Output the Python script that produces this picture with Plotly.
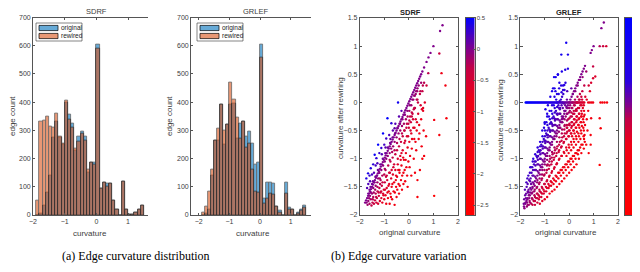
import plotly.graph_objects as go

# ---------------- histogram data ----------------
bin_centers = [-1.85, -1.75, -1.65, -1.55, -1.45, -1.35, -1.25, -1.15, -1.05, -0.95,
               -0.85, -0.75, -0.65, -0.55, -0.45, -0.35, -0.25, -0.15, -0.05, 0.05,
               0.15, 0.25, 0.35, 0.45, 0.55, 0.65, 0.75, 0.85, 0.95, 1.05,
               1.15, 1.25, 1.35, 1.45]
sdrf_original = [0, 5, 35, 80, 140, 275, 330, 275, 250, 400, 355, 325, 230, 280, 295, 280, 150,
                 185, 185, 605, 95, 115, 110, 113, 50, 20, 0, 118, 20, 2, 2, 10, 20, 35]
sdrf_rewired = [53, 330, 335, 350, 315, 310, 360, 278, 255, 405, 340, 310, 235, 260, 290, 265, 160,
                185, 180, 590, 95, 115, 100, 113, 50, 20, 0, 118, 20, 2, 2, 10, 20, 35]
grlef_original = [0, 5, 20, 140, 265, 265, 390, 250, 320, 390, 395, 270, 325, 330, 280, 295, 255,
                  180, 185, 605, 60, 115, 115, 110, 30, 15, 0, 115, 25, 20, 0, 10, 20, 35]
grlef_rewired = [10, 30, 85, 160, 265, 305, 390, 300, 320, 470, 410, 345, 270, 330, 240, 255, 160,
                 85, 80, 560, 40, 60, 75, 72, 30, 10, 0, 75, 20, 20, 0, 5, 15, 25]
hist_xticks = [-2, -1, 0, 1]
hist_yticks = [0, 100, 200, 300, 400, 500, 600, 700]
legend_labels = ["original", "rewired"]

# ---------------- scatter data (original curvature, curvature after rewiring) ----------------
sdrf_unchanged = [-1.78, -1.74, -1.70, -1.66, -1.62, -1.58, -1.54, -1.50, -1.46, -1.42, -1.38, -1.34,
                  -1.30, -1.26, -1.22, -1.18, -1.14, -1.10, -1.06, -1.02, -0.98, -0.94, -0.90, -0.86,
                  -0.82, -0.78, -0.74, -0.70, -0.66, -0.62, -0.58, -0.54, -0.50, -0.46, -0.42, -0.38,
                  -0.34, -0.30, -0.26, -0.22, -0.18, -0.14, -0.10, -0.06, -0.02, 0.02, 0.06, 0.10,
                  0.14, 0.18, 0.22, 0.26, 0.30, 0.34, 0.38, 0.42, 0.46, 0.50, 0.55, 0.62, 0.72, 0.80,
                  0.88, 1.00, 1.27, 1.37, 1.55]
sdrf_changed = [
    (-1.72, -1.78), (-1.68, -1.82), (-1.65, -1.75), (-1.6, -1.8), (-1.55, -1.72), (-1.52, -1.83),
    (-1.48, -1.78), (-1.45, -1.68), (-1.42, -1.8), (-1.38, -1.74), (-1.35, -1.62), (-1.32, -1.78),
    (-1.3, -1.7), (-1.27, -1.58), (-1.25, -1.8), (-1.22, -1.66), (-1.2, -1.52), (-1.18, -1.75),
    (-1.15, -1.6), (-1.12, -1.7), (-1.1, -1.48), (-1.08, -1.78), (-1.05, -1.62), (-1.02, -1.55),
    (-1.0, -1.72), (-0.98, -1.42), (-0.95, -1.65), (-0.92, -1.8), (-0.9, -1.52), (-0.88, -1.38),
    (-0.85, -1.7), (-0.82, -1.58), (-0.8, -1.45), (-0.78, -1.8), (-0.75, -1.62), (-0.72, -1.35),
    (-0.7, -1.5), (-0.68, -1.72), (-0.65, -1.28), (-0.62, -1.58), (-0.6, -1.42), (-0.58, -1.82),
    (-0.55, -1.2), (-0.52, -1.5), (-0.5, -1.68), (-0.48, -1.32), (-0.45, -1.1), (-0.42, -1.45),
    (-0.4, -1.62), (-0.38, -1.25), (-0.35, -0.95), (-0.32, -1.38), (-0.3, -1.12), (-0.28, -1.55),
    (-0.25, -0.85), (-0.22, -1.25), (-0.2, -1.02), (-0.18, -0.72), (-0.15, -1.4), (-0.12, -0.9),
    (-0.1, -1.15), (-0.08, -0.6), (-0.05, -0.8), (-0.02, -1.05), (0.0, -0.45), (0.02, -0.7),
    (0.05, -0.95), (0.08, -0.35), (0.1, -0.55), (0.12, -0.82), (0.15, -0.2), (0.18, -0.45),
    (0.2, -1.0), (0.22, -0.65), (0.25, -0.1), (0.28, -0.3), (0.3, -0.85), (0.32, -0.5),
    (0.35, 0.05), (0.38, -0.2), (0.4, -0.65), (0.42, -0.4), (0.45, 0.15), (0.48, -0.05),
    (0.5, -0.3), (0.52, -0.78), (0.55, 0.2), (0.58, -0.15), (0.6, -0.5),
    (-1.65, -1.62), (-1.6, -1.55), (-1.55, -1.6), (-1.5, -1.45), (-1.45, -1.52), (-1.4, -1.42),
    (-1.35, -1.48), (-1.3, -1.3), (-1.28, -1.42), (-1.25, -1.35), (-1.2, -1.25), (-1.15, -1.38),
    (-1.12, -1.2), (-1.08, -1.3), (-1.05, -1.12), (-1.0, -1.28), (-0.98, -1.05), (-0.95, -1.2),
    (-0.92, -1.0), (-0.9, -1.3), (-0.86, -0.95), (-0.84, -1.12), (-0.8, -1.25), (-0.78, -0.9),
    (-0.75, -1.05), (-0.72, -0.82), (-0.7, -1.2), (-0.66, -0.98), (-0.64, -0.78), (-0.6, -1.1),
    (-0.58, -0.7), (-0.55, -0.92), (-0.52, -1.3), (-0.5, -0.62), (-0.48, -0.85), (-0.45, -1.0),
    (-0.42, -0.55), (-0.4, -0.78), (-0.38, -1.2), (-0.35, -0.5), (-0.32, -0.7), (-0.3, -0.9),
    (-0.28, -0.42), (-0.25, -0.6), (-0.22, -1.45), (-0.2, -0.38), (-0.18, -0.5), (-0.15, -0.68),
    (-0.12, -0.3), (-0.1, -0.45), (-0.05, -0.25), (-0.02, -0.38), (0.02, -0.15), (0.05, -0.25),
    (0.1, -0.05), (0.12, -0.18), (0.18, 0.05), (0.2, -0.12), (0.22, 0.12), (0.28, 0.15),
    (0.3, 0.2), (0.35, 0.25), (0.4, 0.3), (0.25, -1.25), (-0.05, -1.5), (0.1, -1.3),
    (-1.62, -1.7), (-1.58, -1.66), (-1.5, -1.62), (-1.47, -1.72), (-1.43, -1.6), (-1.37, -1.55),
    (-1.33, -1.68), (-1.28, -1.5), (-1.23, -1.6), (-1.17, -1.45), (-1.13, -1.58), (-1.07, -1.42),
    (-1.03, -1.65), (-0.97, -1.55), (-0.93, -1.32), (-0.87, -1.6), (-0.83, -1.48), (-0.77, -1.25),
    (-0.73, -1.68), (-0.67, -1.45), (-0.63, -1.15), (-0.57, -1.6), (-0.53, -1.38), (-0.47, -1.55),
    (-0.43, -1.2), (-0.37, -1.48), (-0.33, -1.02), (-0.27, -1.3), (-0.23, -0.98), (-0.17, -1.2),
    (-0.13, -1.02), (-0.07, -1.3), (-0.03, -0.6), (0.03, -1.15), (0.07, -0.5), (0.13, -0.65),
    (0.17, -0.3), (0.23, -0.45), (0.27, -0.7), (0.33, -0.35), (0.37, 0.0), (0.43, -0.55),
    (0.47, 0.2), (0.53, -0.12), (0.57, 0.3),
    (-1.56, -1.5), (-1.46, -1.4), (-1.36, -1.32), (-1.26, -1.2), (-1.16, -1.1), (-1.06, -1.0),
    (-0.96, -0.9), (-0.86, -0.8), (-0.76, -0.72), (-0.66, -0.62), (-0.56, -0.55), (-0.46, -0.45),
    (-0.36, -0.38), (-0.26, -0.3), (-0.16, -0.22), (-0.06, -0.15), (0.04, -0.05), (0.14, 0.05),
    (0.24, 0.12), (0.34, 0.2),
    (-1.18, -1.35), (-0.98, -1.18), (-0.78, -1.02), (-0.58, -0.85), (-0.38, -0.65), (-0.18, -0.5),
    (0.02, -0.32), (0.22, -0.1), (-0.68, -0.88), (-0.48, -0.72), (-0.28, -0.55), (-0.08, -0.38),
    (0.12, -0.25), (0.32, 0.05),
    (0.35, -1.68), (1.03, -1.66), (1.24, -0.58), (1.53, -0.28), (1.49, 0.3), (1.33, 0.52),
    (1.24, 0.87), (0.79, 0.52), (1.03, -0.31), (0.35, -1.38), (0.58, -0.1), (0.62, -0.95),
    (0.72, 0.3), (0.65, 0.0), (0.7, -0.6), (0.55, -1.0), (0.45, -1.2), (0.62, 0.35), (0.5, 0.35),
    (-0.44, 0.0), (-0.87, -0.28), (-0.71, -0.37), (-1.05, -0.55), (-1.25, -0.75), (-1.39, -0.93),
    (-1.55, -1.17), (-1.66, -1.26), (-1.73, -1.35), (-1.32, -0.99), (-1.12, -0.81), (-0.92, -0.64),
    (-0.58, -0.46), (-1.45, -1.1), (-1.6, -1.3), (-1.2, -0.9), (-1.0, -0.75), (-0.8, -0.58),
    (-0.65, -0.5), (-1.35, -1.12), (-1.5, -1.28), (-1.65, -1.45), (-1.7, -1.52), (-1.1, -0.92),
    (-0.95, -0.8), (-0.75, -0.65), (-0.55, -0.38), (-0.4, -0.25), (-0.3, -0.15), (-1.28, -1.08),
    (-1.42, -1.25), (-1.58, -1.4),
]

grlef_unchanged = [-1.85, -1.8, -1.75, -1.7, -1.65, -1.6, -1.55, -1.5, -1.45, -1.4, -1.35, -1.3,
                   -1.25, -1.2, -1.15, -1.1, -1.05, -1.0, -0.95, -0.9, -0.85, -0.8, -0.75, -0.7,
                   -0.65, -0.6, -0.55, -0.5, -0.45, -0.4, -0.35, -0.3, -0.25, -0.2, -0.15, -0.1,
                   -0.05, 0.0, 0.05, 0.1, 0.15, 0.2, 0.25, 0.3, 0.35, 0.4, 0.45, 0.5, 0.55, 0.6,
                   0.65, 0.88, 0.93, 1.0, 1.32, 1.42, 1.52]
grlef_to_zero = [-1.78, -1.74, -1.70, -1.66, -1.62, -1.58, -1.54, -1.50, -1.46, -1.42, -1.38, -1.34,
                 -1.30, -1.26, -1.22, -1.18, -1.14, -1.10, -1.06, -1.02, -0.98, -0.94, -0.90, -0.86,
                 -0.82, -0.78, -0.74, -0.70, -0.66, -0.62, -0.58, -0.54, -0.50, -0.46, -0.42, -0.38,
                 -0.34, -0.30, -0.26, -0.22, -0.18, -0.14, -0.10, -0.06, -0.02, 0.02, 0.06, 0.10,
                 0.14, 0.18, 0.22, 0.26, 0.30, 0.34, 0.38, 0.42, 0.46, 0.50, 0.54, 0.58, 0.62,
                 0.78, 0.85, 0.92, 0.98, 1.28, 1.36, 1.45, 1.55]
grlef_changed = [
    (-1.86, -1.8), (-1.84, -1.72), (-1.83, -1.88),
    (-1.76, -1.62), (-1.74, -1.5), (-1.73, -1.85), (-1.77, -1.7), (-1.72, -1.78), (-1.75, -1.42),
    (-1.66, -1.55), (-1.64, -1.38), (-1.65, -1.82), (-1.63, -1.7), (-1.67, -1.3), (-1.62, -1.75), (-1.68, -1.6),
    (-1.56, -1.45), (-1.54, -1.25), (-1.55, -1.8), (-1.53, -1.62), (-1.57, -1.15), (-1.52, -1.7), (-1.58, -1.35), (-1.5, -1.52),
    (-1.46, -1.3), (-1.44, -1.1), (-1.45, -1.75), (-1.43, -1.58), (-1.47, -1.0), (-1.42, -1.65), (-1.48, -1.2), (-1.4, -1.82), (-1.41, -1.48),
    (-1.36, -1.2), (-1.34, -0.95), (-1.35, -1.7), (-1.33, -1.52), (-1.37, -1.05), (-1.32, -1.62), (-1.38, -1.12), (-1.3, -1.78), (-1.31, -1.42), (-1.29, -0.88),
    (-1.26, -1.1), (-1.24, -0.85), (-1.25, -1.65), (-1.23, -1.45), (-1.27, -0.95), (-1.22, -1.55), (-1.28, -1.02), (-1.2, -1.8), (-1.21, -1.35), (-1.19, -0.78), (-1.24, -1.72),
    (-1.16, -1.0), (-1.14, -0.75), (-1.15, -1.6), (-1.13, -1.38), (-1.17, -0.85), (-1.12, -1.5), (-1.18, -0.92), (-1.1, -1.75), (-1.11, -1.28), (-1.09, -0.7), (-1.14, -1.68), (-1.1, -1.2),
    (-1.06, -0.9), (-1.04, -0.65), (-1.05, -1.55), (-1.03, -1.3), (-1.07, -0.78), (-1.02, -1.45), (-1.08, -0.82), (-1.0, -1.72), (-1.01, -1.2), (-0.99, -0.6), (-1.04, -1.62), (-1.0, -1.1), (-1.03, -0.45),
    (-0.96, -0.8), (-0.94, -0.55), (-0.95, -1.5), (-0.93, -1.25), (-0.97, -0.68), (-0.92, -1.4), (-0.98, -0.72), (-0.9, -1.68), (-0.91, -1.12), (-0.89, -0.5), (-0.94, -1.58), (-0.9, -1.02), (-0.93, -0.35), (-0.97, -0.12),
    (-0.86, -0.7), (-0.84, -0.45), (-0.85, -1.45), (-0.83, -1.18), (-0.87, -0.58), (-0.82, -1.32), (-0.88, -0.62), (-0.8, -1.62), (-0.81, -1.05), (-0.79, -0.38), (-0.84, -1.52), (-0.8, -0.95), (-0.83, -0.25), (-0.87, -0.05),
    (-0.76, -0.6), (-0.74, -0.35), (-0.75, -1.4), (-0.73, -1.1), (-0.77, -0.5), (-0.72, -1.25), (-0.78, -0.52), (-0.7, -1.58), (-0.71, -0.98), (-0.69, -0.28), (-0.74, -1.48), (-0.7, -0.88), (-0.73, -0.15), (-0.77, 0.1),
    (-0.66, -0.5), (-0.64, -0.25), (-0.65, -1.35), (-0.63, -1.02), (-0.67, -0.4), (-0.62, -1.18), (-0.68, -0.42), (-0.6, -1.55), (-0.61, -0.9), (-0.59, -0.18), (-0.64, -1.45), (-0.6, -0.8), (-0.63, -0.05), (-0.66, 0.25), (-0.62, 0.45),
    (-0.56, -0.4), (-0.54, -0.15), (-0.55, -1.3), (-0.53, -0.95), (-0.57, -0.3), (-0.52, -1.1), (-0.58, -0.32), (-0.5, -1.5), (-0.51, -0.82), (-0.49, -0.08), (-0.54, -1.4), (-0.5, -0.7), (-0.53, 0.05), (-0.56, 0.2), (-0.52, -0.6),
    (-0.46, -0.3), (-0.44, -0.05), (-0.45, -1.25), (-0.43, -0.88), (-0.47, -0.2), (-0.42, -1.02), (-0.48, -0.22), (-0.4, -1.45), (-0.41, -0.75), (-0.39, 0.02), (-0.44, -1.35), (-0.4, -0.62), (-0.43, 0.15), (-0.46, 0.5), (-0.42, -0.52),
    (-0.36, -0.2), (-0.34, 0.05), (-0.35, -1.2), (-0.33, -0.8), (-0.37, -0.1), (-0.32, -0.95), (-0.38, -0.12), (-0.3, -1.4), (-0.31, -0.68), (-0.29, 0.1), (-0.34, -1.3), (-0.3, -0.55), (-0.33, 0.3), (-0.32, 0.85), (-0.36, -0.45),
    (-0.26, -0.1), (-0.24, 0.15), (-0.25, -1.15), (-0.23, -0.72), (-0.27, 0.0), (-0.22, -0.88), (-0.28, -0.35), (-0.2, -1.35), (-0.21, -0.6), (-0.19, 0.22), (-0.24, -1.25), (-0.2, -0.48), (-0.25, 0.3), (-0.16, 0.58), (-0.26, -0.28),
    (-0.16, -0.05), (-0.14, -0.25), (-0.15, -1.1), (-0.13, -0.65), (-0.17, -0.15), (-0.12, -0.8), (-0.18, -0.4), (-0.1, -1.3), (-0.11, -0.55), (-0.09, 0.05), (-0.14, -1.2), (-0.1, -0.45), (-0.12, 1.06), (-0.15, 0.35), (-0.11, -0.95),
    (-0.06, -0.1), (-0.04, -0.3), (-0.05, -1.05), (-0.03, -0.6), (-0.07, -0.2), (-0.02, -0.75), (-0.08, -0.45), (0.0, -1.25), (-0.01, -0.5), (-0.05, 0.85), (-0.04, -1.15), (0.0, -0.4), (-0.02, -0.9), (-0.08, 0.2),
    (0.04, -0.05), (0.06, -0.25), (0.05, -1.0), (0.07, -0.55), (0.03, -0.15), (0.08, -0.7), (0.02, -0.4), (0.1, -1.2), (0.09, -0.45), (0.09, 0.25), (0.06, -1.1), (0.1, -0.35), (0.08, -0.85),
    (0.14, 0.0), (0.16, -0.2), (0.15, -0.95), (0.17, -0.5), (0.13, -0.1), (0.18, -0.65), (0.12, -0.35), (0.2, -1.15), (0.19, -0.4), (0.15, 0.15), (0.16, -1.05), (0.2, -0.3), (0.18, -0.8),
    (0.24, 0.05), (0.26, -0.15), (0.25, -0.9), (0.27, -0.45), (0.23, -0.05), (0.28, -0.6), (0.22, -0.3), (0.3, -1.1), (0.29, -0.35), (0.26, -1.0), (0.3, -0.25), (0.28, -0.75), (0.25, 0.2),
    (0.34, 0.1), (0.36, -0.1), (0.35, -0.85), (0.37, -0.4), (0.33, 0.0), (0.38, -0.55), (0.32, -0.25), (0.4, -1.0), (0.39, -0.3), (0.36, -0.92), (0.4, -0.2), (0.38, -0.7), (0.35, 0.3),
    (0.44, 0.15), (0.46, -0.05), (0.45, -0.8), (0.47, -0.35), (0.43, 0.05), (0.48, -0.5), (0.42, -0.2), (0.5, -0.9), (0.49, -0.25), (0.46, -0.65), (0.5, -0.15), (0.45, 0.4),
    (0.54, 0.2), (0.56, -0.1), (0.55, -0.75), (0.57, -0.3), (0.53, 0.05), (0.58, -0.45), (0.52, -0.2), (0.6, -0.82), (0.59, -0.6), (0.6, -0.25), (0.55, 0.45),
    (0.63, -0.22), (0.63, -0.58), (0.65, -0.4), (0.62, 0.3), (0.66, 0.1), (0.64, -0.7),
    (-1.8, -1.65), (-1.79, -1.78), (-1.81, -1.55),
    (-1.7, -1.45), (-1.71, -1.72), (-1.69, -1.58), (-1.7, -1.82), (-1.71, -1.35),
    (-1.6, -1.4), (-1.61, -1.65), (-1.59, -1.52), (-1.6, -1.78), (-1.61, -1.25), (-1.59, -1.15),
    (-1.5, -1.3), (-1.51, -1.6), (-1.49, -1.42), (-1.5, -1.72), (-1.51, -1.15), (-1.49, -1.05), (-1.5, -1.82),
    (-1.4, -1.2), (-1.41, -1.55), (-1.39, -1.32), (-1.4, -1.68), (-1.41, -1.05), (-1.39, -0.92), (-1.4, -1.75),
    (-1.3, -1.1), (-1.31, -1.5), (-1.29, -1.22), (-1.3, -1.62), (-1.31, -0.98), (-1.29, -0.8), (-1.3, -1.38), (-1.31, -1.7),
    (-1.2, -1.0), (-1.21, -1.42), (-1.19, -1.12), (-1.2, -1.58), (-1.21, -0.88), (-1.19, -0.7), (-1.2, -1.28), (-1.21, -1.68),
    (-1.1, -0.9), (-1.11, -1.35), (-1.09, -1.02), (-1.1, -1.52), (-1.11, -0.78), (-1.09, -0.6), (-1.1, -1.15), (-1.11, -1.62), (-1.1, -0.5),
    (-1.0, -0.8), (-1.01, -1.28), (-0.99, -0.92), (-1.0, -1.45), (-1.01, -0.68), (-0.99, -0.5), (-1.0, -1.05), (-1.01, -1.58), (-1.0, -0.38),
    (-0.9, -0.7), (-0.91, -1.2), (-0.89, -0.82), (-0.9, -1.38), (-0.91, -0.58), (-0.89, -0.4), (-0.9, -0.95), (-0.91, -1.52), (-0.9, -0.25), (-0.88, -1.1),
    (-0.8, -0.6), (-0.81, -1.12), (-0.79, -0.72), (-0.8, -1.3), (-0.81, -0.48), (-0.79, -0.3), (-0.8, -0.85), (-0.81, -1.48), (-0.8, -0.15), (-0.78, -1.0),
    (-0.7, -0.5), (-0.71, -1.05), (-0.69, -0.62), (-0.7, -1.22), (-0.71, -0.38), (-0.69, -0.2), (-0.7, -0.75), (-0.71, -1.42), (-0.7, -0.05), (-0.68, -0.92),
    (-0.6, -0.4), (-0.61, -0.98), (-0.59, -0.52), (-0.6, -1.15), (-0.61, -0.28), (-0.59, -0.1), (-0.6, -0.65), (-0.61, -1.38), (-0.6, 0.1), (-0.58, -0.85),
    (-0.5, -0.3), (-0.51, -0.9), (-0.49, -0.42), (-0.5, -1.08), (-0.51, -0.2), (-0.49, 0.0), (-0.5, -0.55), (-0.51, -1.32), (-0.5, 0.15), (-0.48, -0.78),
    (-0.4, -0.2), (-0.41, -0.85), (-0.39, -0.32), (-0.4, -1.0), (-0.41, -0.1), (-0.39, -0.45), (-0.4, -1.25), (-0.38, -0.7), (-0.41, 0.25),
    (-0.3, -0.25), (-0.31, -0.78), (-0.29, -0.35), (-0.3, -0.95), (-0.31, -0.05), (-0.29, -0.48), (-0.3, -1.2), (-0.28, -0.62), (-0.31, 0.18),
    (-0.2, -0.15), (-0.21, -0.7), (-0.19, -0.3), (-0.2, -0.9), (-0.21, -0.02), (-0.19, -0.42), (-0.2, -1.15), (-0.18, -0.55),
    (-0.1, -0.2), (-0.11, -0.65), (-0.09, -0.32), (-0.1, -0.85), (-0.11, -0.08), (-0.09, -0.4), (-0.1, -1.1), (-0.08, -0.52),
    (0.0, -0.1), (-0.01, -0.6), (0.01, -0.28), (0.0, -0.8), (-0.01, -0.18), (0.01, -0.38), (0.0, -1.05), (0.02, -0.5),
    (0.1, -0.1), (0.09, -0.55), (0.11, -0.25), (0.1, -0.75), (0.09, -0.18), (0.11, -0.42), (0.1, -1.0), (0.12, -0.6),
    (0.2, -0.05), (0.19, -0.5), (0.21, -0.2), (0.2, -0.7), (0.19, -0.15), (0.21, -0.38), (0.2, -0.95), (0.22, -0.55),
    (0.3, 0.0), (0.29, -0.45), (0.31, -0.15), (0.3, -0.65), (0.29, -0.12), (0.31, -0.32), (0.3, -0.9), (0.32, -0.52),
    (0.4, 0.05), (0.39, -0.4), (0.41, -0.1), (0.4, -0.6), (0.41, -0.28), (0.4, -0.85), (0.42, -0.45),
    (0.5, 0.1), (0.49, -0.35), (0.51, -0.05), (0.5, -0.55), (0.51, -0.25), (0.5, -0.75), (0.52, -0.42),
    (0.6, -0.05), (0.59, -0.35), (0.61, -0.15), (0.6, -0.5), (0.61, -0.65),
    (0.9, -0.28), (0.88, -0.58), (0.88, -0.75), (1.25, -0.28), (1.29, -0.46), (1.25, -1.11),
    (0.98, 0.43), (1.07, 0.46), (0.98, 0.64), (1.25, 1.0), (1.39, 1.0), (1.52, 1.0), (0.8, 0.3),
    (0.78, -0.15), (0.75, -0.5), (0.85, 0.2), (0.72, -0.3), (0.8, -0.9), (0.7, 0.55), (0.9, 0.35),
    (0.72, 0.05), (0.7, -0.75),
    (-0.46, 0.49), (-0.25, 0.22), (-0.05, 0.6), (-0.2, 0.31), (-0.6, 0.25), (-0.7, 0.2), (-0.4, 0.35),
    (-0.55, 0.45), (-0.9, -0.2), (-1.0, -0.35), (-0.3, 0.55),
]

sdrf_cbar_ticks = [0.5, 0, -0.5, -1, -1.5, -2, -2.5]
grlef_cbar_ticks = [1.5, 1, 0.5, 0, -0.5, -1, -1.5, -2]
scatter_ticks_x = [-2, -1, 0, 1, 2]
scatter_ticks_y = [-2, -1.5, -1, -0.5, 0, 0.5, 1, 1.5]

# ---------------- figure ----------------
W, H = 640, 272
def fx(px):
    return px / W
def fy(py):
    return 1 - py / H

BLUE = "rgb(0,114,189)"
ORANGE = "rgb(217,83,25)"
AX = "#404040"
FONT = "Liberation Sans"
CB_TOP, CB_BOT = 10, 207

fig = go.Figure()

for i, (orig, rew) in enumerate([(sdrf_original, sdrf_rewired), (grlef_original, grlef_rewired)]):
    xa = "x" if i == 0 else "x2"
    ya = "y" if i == 0 else "y2"
    fig.add_trace(go.Bar(x=bin_centers, y=orig, width=0.1, name=legend_labels[0], xaxis=xa, yaxis=ya,
                         marker=dict(color=BLUE, line=dict(color="black", width=0.8)),
                         opacity=0.6, showlegend=False))
    fig.add_trace(go.Bar(x=bin_centers, y=rew, width=0.1, name=legend_labels[1], xaxis=xa, yaxis=ya,
                         marker=dict(color=ORANGE, line=dict(color="black", width=0.8)),
                         opacity=0.6, showlegend=False))


def red_purple_blue(cmin, cmax):
    # colour stops defined on the curvature-change value
    stops = [(cmin, "rgb(255,0,0)"), (-0.8, "rgb(238,0,22)"), (-0.3, "rgb(195,0,70)"),
             (0.0, "rgb(128,0,140)"), (min(0.5, cmax), "rgb(40,0,225)"), (cmax, "rgb(0,0,255)")]
    out = []
    for v, c in stops:
        t = (v - cmin) / (cmax - cmin)
        if out and t <= out[-1][0]:
            out[-1] = [out[-1][0], c]
            continue
        out.append([t, c])
    out[-1][0] = 1.0
    return out


def scatter_trace(same, changed, xa, ya, cmin, cmax, extra=None):
    xs = list(same) + [p[0] for p in changed]
    ys = list(same) + [p[1] for p in changed]
    if extra is not None:
        xs += list(extra)
        ys += [0.0] * len(extra)
    colors = [b - a for a, b in zip(xs, ys)]
    return go.Scatter(
        x=xs, y=ys, mode="markers", xaxis=xa, yaxis=ya, showlegend=False,
        marker=dict(size=2.4, color=colors, colorscale=red_purple_blue(cmin, cmax), cmin=cmin, cmax=cmax,
                    showscale=False, line=dict(width=0)))


# (cmin, cmax, bar left px, ticks, x-axis name, y-axis name)
cbars = [(-2.66, 0.5, 457.7, sdrf_cbar_ticks, "x5", "y5"),
         (-2.24, 1.77, 617.0, grlef_cbar_ticks, "x6", "y6")]
fig.add_trace(scatter_trace(sdrf_unchanged, sdrf_changed, "x3", "y3", cbars[0][0], cbars[0][1]))
fig.add_trace(scatter_trace(grlef_unchanged, grlef_changed, "x4", "y4", cbars[1][0], cbars[1][1],
                            extra=grlef_to_zero))

# colour bars drawn as thin heatmaps on their own axes (no margin push-out)
for cmin, cmax, cbx, ticks, xa, ya in cbars:
    n = 120
    levels = [cmin + (cmax - cmin) * k / (n - 1) for k in range(n)]
    fig.add_trace(go.Heatmap(z=[[v] for v in levels], x=[0], y=levels, xaxis=xa, yaxis=ya,
                             colorscale=red_purple_blue(cmin, cmax), zmin=cmin, zmax=cmax,
                             showscale=False, hoverinfo="skip"))

axis_common = dict(showline=True, linecolor="#555555", linewidth=0.7, ticks="inside", ticklen=2.5,
                   tickcolor="#555555", tickfont=dict(family=FONT, size=7, color=AX),
                   showgrid=False, zeroline=False)
ydom = [fy(207), fy(9.5)]
layout = dict(
    width=W, height=H, margin=dict(l=0, r=0, t=0, b=0, autoexpand=False),
    paper_bgcolor="white", plot_bgcolor="white", barmode="overlay", bargap=0, showlegend=False,
    xaxis=dict(domain=[fx(25), fx(140)], range=[-2, 1.63], tickvals=hist_xticks, anchor="y", mirror="ticks", **axis_common),
    yaxis=dict(domain=ydom, range=[0, 700], tickvals=hist_yticks, anchor="x", **axis_common),
    xaxis2=dict(domain=[fx(183), fx(302.7)], range=[-2.25, 1.65], tickvals=hist_xticks, anchor="y2", mirror="ticks", **axis_common),
    yaxis2=dict(domain=ydom, range=[0, 700], tickvals=hist_yticks, anchor="x2", **axis_common),
    xaxis3=dict(domain=[fx(351.7), fx(450)], range=[-2, 2], tickvals=scatter_ticks_x, anchor="y3", mirror="ticks", **axis_common),
    yaxis3=dict(domain=[fy(207), fy(10)], range=[-2, 1.5], tickvals=scatter_ticks_y, anchor="x3", mirror="ticks", **axis_common),
    xaxis4=dict(domain=[fx(512.3), fx(610)], range=[-2, 2], tickvals=scatter_ticks_x, anchor="y4", mirror="ticks", **axis_common),
    yaxis4=dict(domain=[fy(207), fy(10)], range=[-2, 1.5], tickvals=scatter_ticks_y, anchor="x4", mirror="ticks", **axis_common),
)
for cmin, cmax, cbx, ticks, xa, ya in cbars:
    xk = "xaxis" + xa[1:]
    yk = "yaxis" + ya[1:]
    layout[xk] = dict(domain=[fx(cbx), fx(cbx + 9)], range=[-0.5, 0.5], anchor=ya, showticklabels=False,
                      ticks="", showline=True, mirror=True, linecolor="#555555", linewidth=0.6,
                      showgrid=False, zeroline=False, fixedrange=True)
    layout[yk] = dict(domain=[fy(CB_BOT), fy(CB_TOP)], range=[cmin, cmax], anchor=xa, side="right",
                      tickvals=ticks, ticks="inside", ticklen=2, tickcolor="#555555",
                      tickfont=dict(family=FONT, size=6, color=AX), showline=True, mirror=True,
                      linecolor="#555555", linewidth=0.6, showgrid=False, zeroline=False, fixedrange=True)
fig.update_layout(**layout)

def ann(text, x, y, size=8, angle=0, bold=False, color=AX, family=FONT, xanchor="center", yanchor="middle"):
    fig.add_annotation(text=f"<b>{text}</b>" if bold else text, x=fx(x), y=fy(y), xref="paper", yref="paper",
                       showarrow=False, textangle=angle, xanchor=xanchor, yanchor=yanchor,
                       font=dict(family=family, size=size, color=color))

# hand-drawn legends (MATLAB style) for the two histograms
for lx in (28, 189):
    fig.add_shape(type="rect", xref="paper", yref="paper", x0=fx(lx), x1=fx(lx + 46), y0=fy(33), y1=fy(15),
                  line=dict(color="#333333", width=0.6), fillcolor="white")
    for k, (col, lab) in enumerate([("rgba(0,114,189,0.6)", legend_labels[0]), ("rgba(217,83,25,0.6)", legend_labels[1])]):
        yc = 20 + 8 * k
        fig.add_shape(type="rect", xref="paper", yref="paper", x0=fx(lx + 3), x1=fx(lx + 22),
                      y0=fy(yc + 2.6), y1=fy(yc - 2.6), line=dict(color="black", width=0.7), fillcolor=col)
        ann(lab, lx + 23, yc, size=6.5, color="#222222", xanchor="left")

ann("SDRF", 88, 4, size=7.5)
ann("GRLEF", 247, 4, size=7.5)
ann("SDRF", 402, 4.5, size=7.5, bold=True, color="#222222")
ann("GRLEF", 561, 4.5, size=7.5, bold=True, color="#222222")
ann("edge count", 5, 108, angle=-90)
ann("edge count", 162, 108, angle=-90)
ann("curvature", 82, 225)
ann("curvature", 245, 225)
ann("original curvature", 402, 224)
ann("original curvature", 558, 224)
ann("curvature after rewiring", 332, 110, angle=-90)
ann("curvature after rewiring", 492, 112, angle=-90)
ann("(a) Edge curvature distribution", 128, 248, size=12, color="black", family="Liberation Serif")
ann("(b) Edge curvature variation", 391, 248, size=12, color="black", family="Liberation Serif")
ann("Figure 3: Effects of SDRF and GRLEF rewiring on edge curvature on Chameleon", 65, 267.5, size=12,
    color="#555555", family="Liberation Serif", xanchor="left", yanchor="top")

fig.write_html("out.html")
